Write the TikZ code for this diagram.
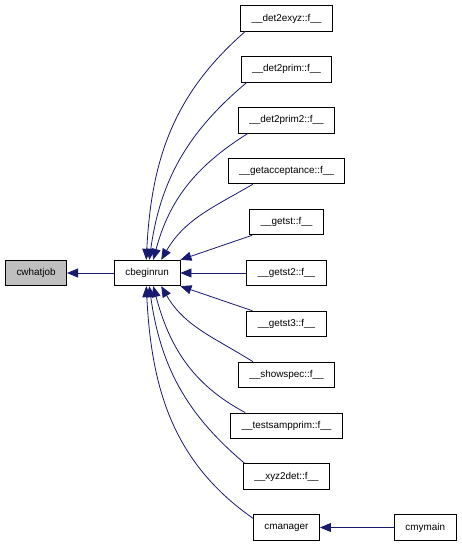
\documentclass[tikz,border=0pt]{standalone}
\usepackage{fontspec}
\setmainfont{Liberation Sans}
\usetikzlibrary{arrows.meta,positioning}
\definecolor{edgeblue}{HTML}{191970}

\begin{document}
\begin{tikzpicture}[
    node distance=24.6pt and 66pt,
    fnode/.style={draw, line width=0.9pt, fill=white, minimum height=25.4pt, inner xsep=11pt, font=\fontsize{9.9}{11}\selectfont},
    current/.style={fnode, fill=gray!50},
    calledge/.style={{Triangle[length=11pt,width=9pt]}-, draw=edgeblue, line width=0.8pt}
]
\useasboundingbox (0,0) rectangle (461pt,-544pt);
\node[fnode] (det2exyz) at (286.5pt,-18.5pt) {\_\_det2exyz::f\_\_};
\node[fnode, below=of det2exyz] (det2prim) {\_\_det2prim::f\_\_};
\node[fnode, below=of det2prim] (det2prim2) {\_\_det2prim2::f\_\_};
\node[fnode, below=of det2prim2] (getacc) {\_\_getacceptance::f\_\_};
\node[fnode, below=of getacc] (getst) {\_\_getst::f\_\_};
\node[fnode, below=of getst] (getst2) {\_\_getst2::f\_\_};
\node[fnode, below=of getst2] (getst3) {\_\_getst3::f\_\_};
\node[fnode, below=of getst3] (showspec) {\_\_showspec::f\_\_};
\node[fnode, below=of showspec] (testsamp) {\_\_testsampprim::f\_\_};
\node[fnode, below=of testsamp] (xyz2det) {\_\_xyz2det::f\_\_};
\node[fnode, below=of xyz2det] (cmanager) {cmanager};
\node[fnode, right=74pt of cmanager] (cmymain) {cmymain};
\node[fnode, left=66pt of getst2] (cbeginrun) {cbeginrun};
\node[current, left=47pt of cbeginrun] (cwhatjob) {cwhatjob};
\draw[calledge] (cwhatjob) -- (cbeginrun);
\draw[calledge] (cmanager) -- (cmymain);
\draw[calledge] ([xshift=-1pt]cbeginrun.north) to[out=87, in=221] ([xshift=5pt]det2exyz.south west);
\draw[calledge] ([xshift=2pt]cbeginrun.north) to[out=82, in=220] ([xshift=6pt]det2prim.south west);
\draw[calledge] ([xshift=6pt]cbeginrun.north) to[out=75, in=212] ([xshift=10pt]det2prim2.south west);
\draw[calledge] ([xshift=14pt]cbeginrun.north) to[out=60, in=210] ([xshift=25pt]getacc.south west);
\draw[calledge] (cbeginrun.north east) -- ([xshift=3pt]getst.south west);
\draw[calledge] (cbeginrun) -- (getst2);
\draw[calledge] (cbeginrun.south east) -- ([xshift=6pt]getst3.north west);
\draw[calledge] ([xshift=14pt]cbeginrun.south) to[out=-60, in=148] ([xshift=15pt]showspec.north west);
\draw[calledge] ([xshift=6pt]cbeginrun.south) to[out=-75, in=152] ([xshift=15pt]testsamp.north west);
\draw[calledge] ([xshift=2pt]cbeginrun.south) to[out=-82, in=140] ([xshift=2pt]xyz2det.north west);
\draw[calledge] ([xshift=-1pt]cbeginrun.south) to[out=-87, in=145] ([yshift=-4pt]cmanager.north west);
\end{tikzpicture}
\end{document}
